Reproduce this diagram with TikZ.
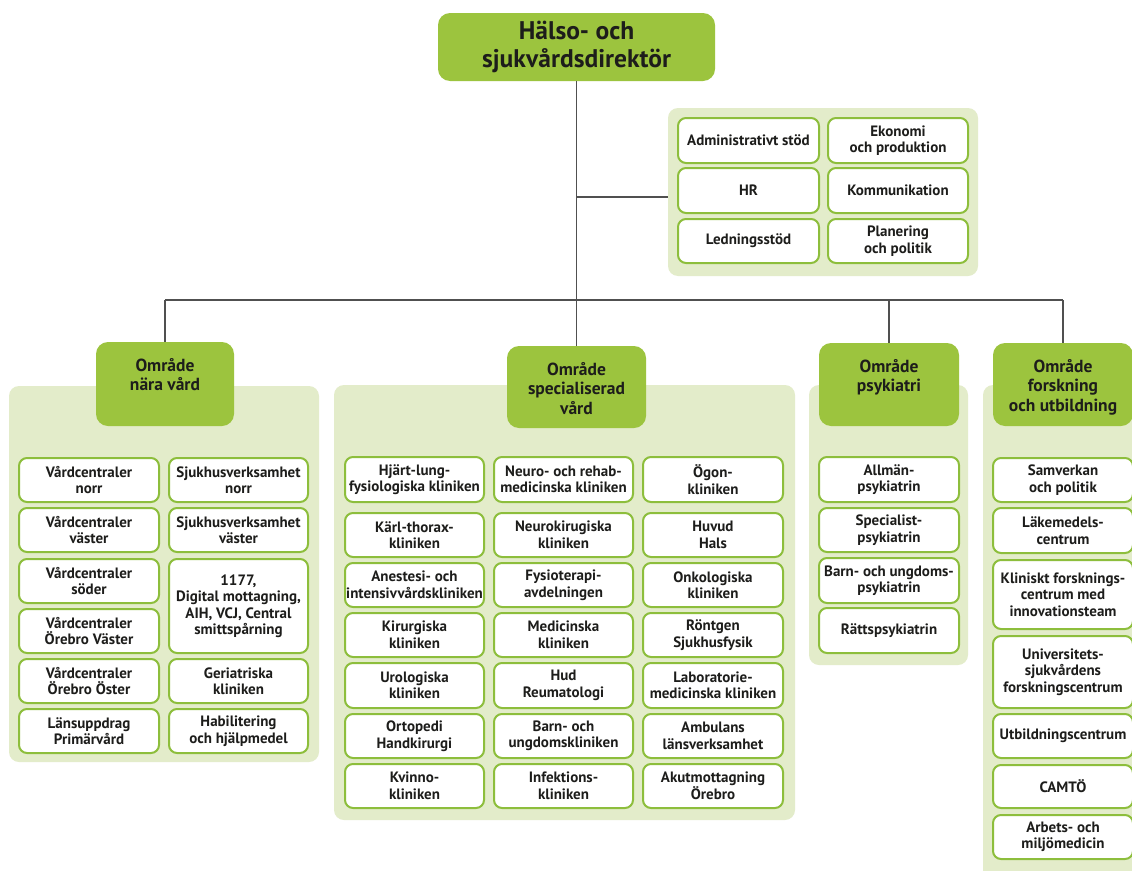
\documentclass[tikz,border=0pt]{standalone}
\usepackage{fontspec}
\setmainfont{PT Sans}
\definecolor{gdark}{HTML}{9CC43E}
\definecolor{gpanel}{HTML}{E3ECCA}
\definecolor{gborder}{HTML}{8DBE3C}
\definecolor{conncol}{HTML}{505050}
\definecolor{txt}{HTML}{1D1D1B}
\newcommand\mkbox[6]{\node[ibox, minimum width={#4-#2}, minimum height={#5-#3}] (#1) at ({(#2+#4)/2},{(#3+#5)/2}) {#6};}
\newcommand\mkpanel[5]{\node[panelbox, minimum width={#4-#2}, minimum height={#5-#3}] (#1) at ({(#2+#4)/2},{(#3+#5)/2}) {};}
\newcommand\mkhead[6]{\node[gbox, minimum width={#4-#2}, minimum height={#5-#3}] (#1) at ({(#2+#4)/2},{(#3+#5)/2}) {};
  \node[gtext, anchor=north] (#1t) at ([yshift=-16pt]#1.north) {#6};}
\begin{document}
\begin{tikzpicture}[x=1pt,y=-1pt,
  ibox/.style={draw=gborder, line width=2pt, fill=white, rounded corners=8pt, inner sep=0pt, align=center, text=txt, font=\bfseries\fontsize{15}{16.5}\selectfont},
  panelbox/.style={fill=gpanel, rounded corners=10pt, inner sep=0pt},
  gbox/.style={fill=gdark, rounded corners=12pt, inner sep=0pt},
  gtext/.style={inner sep=0pt, align=center, text=txt, font=\bfseries\fontsize{17.5}{19.5}\selectfont},
  conn/.style={draw=conncol, line width=1.4pt}]
\useasboundingbox[fill=white] (0,0) rectangle (1132,870);

% top
\node[gbox, minimum width=277, minimum height=68, align=center, text=txt, font=\bfseries\fontsize{25.5}{28}\selectfont] (top) at (576.5,47) {Hälso- och\\sjukvårdsdirektör};

% support panel
\mkpanel{stod}{668}{108}{978}{276}
\mkbox{as1}{678}{118}{819}{163}{Administrativt stöd}
\mkbox{as2}{828}{118}{968}{163}{Ekonomi\\och produktion}
\mkbox{as3}{678}{168}{819}{213}{HR}
\mkbox{as4}{828}{168}{968}{213}{Kommunikation}
\mkbox{as5}{678}{219}{819}{263}{Ledningsstöd}
\mkbox{as6}{828}{219}{968}{263}{Planering\\och politik}

% connectors
\coordinate (b1) at (165,300);
\coordinate (b2) at (576.5,300);
\coordinate (b3) at (889,300);
\coordinate (b4) at (1063,300);
\coordinate (sb) at (576.5,197);

% panels
\mkpanel{nvp}{9}{386}{319}{762}
\mkpanel{svp}{334}{385}{795}{820}
\mkpanel{psp}{809}{385}{968}{665}
\mkpanel{fup}{983}{385}{1150}{890}

% headings
\mkhead{nv}{96}{342}{234}{426}{Område\\nära vård}
\mkhead{sv}{507}{346}{646}{428}{Område\\specialiserad\\vård}
\mkhead{ps}{819}{343}{959}{426}{Område\\psykiatri}
\mkhead{fu}{993}{343}{1133}{426}{Område\\forskning\\och utbildning}

% nära vård
\mkbox{n1}{19}{458}{159}{502}{Vårdcentraler\\norr}
\mkbox{n2}{169}{458}{308}{502}{Sjukhusverksamhet\\norr}
\mkbox{n3}{19}{508}{159}{552}{Vårdcentraler\\väster}
\mkbox{n4}{169}{508}{308}{552}{Sjukhusverksamhet\\väster}
\mkbox{n5}{19}{559}{159}{603}{Vårdcentraler\\söder}
\mkbox{n6}{169}{559}{308}{653}{1177,\\Digital mottagning,\\AIH, VCJ, Central\\smittspårning}
\mkbox{n7}{19}{609}{159}{653}{Vårdcentraler\\Örebro Väster}
\mkbox{n8}{19}{659}{159}{703}{Vårdcentraler\\Örebro Öster}
\mkbox{n9}{169}{659}{308}{703}{Geriatriska\\kliniken}
\mkbox{n10}{19}{709}{159}{753}{Länsuppdrag\\Primärvård}
\mkbox{n11}{169}{709}{308}{753}{Habilitering\\och hjälpmedel}

% specialiserad vård
\mkbox{s11}{345}{457}{484}{502}{Hjärt-lung-\\fysiologiska kliniken}
\mkbox{s12}{494}{457}{633}{502}{Neuro- och rehab-\\medicinska kliniken}
\mkbox{s13}{643}{457}{783}{502}{Ögon-\\kliniken}
\mkbox{s21}{345}{513}{484}{557}{Kärl-thorax-\\kliniken}
\mkbox{s22}{494}{513}{633}{557}{Neurokirugiska\\kliniken}
\mkbox{s23}{643}{513}{783}{557}{Huvud\\Hals}
\mkbox{s31}{345}{563}{484}{607}{Anestesi- och\\intensivvårdskliniken}
\mkbox{s32}{494}{563}{633}{607}{Fysioterapi-\\avdelningen}
\mkbox{s33}{643}{563}{783}{607}{Onkologiska\\kliniken}
\mkbox{s41}{345}{613}{484}{657}{Kirurgiska\\kliniken}
\mkbox{s42}{494}{613}{633}{657}{Medicinska\\kliniken}
\mkbox{s43}{643}{613}{783}{657}{Röntgen\\Sjukhusfysik}
\mkbox{s51}{345}{663}{484}{708}{Urologiska\\kliniken}
\mkbox{s52}{494}{663}{633}{708}{Hud\\Reumatologi}
\mkbox{s53}{643}{663}{783}{708}{Laboratorie-\\medicinska kliniken}
\mkbox{s61}{345}{714}{484}{758}{Ortopedi\\Handkirurgi}
\mkbox{s62}{494}{714}{633}{758}{Barn- och\\ungdomskliniken}
\mkbox{s63}{643}{714}{783}{758}{Ambulans\\länsverksamhet}
\mkbox{s71}{345}{764}{484}{808}{Kvinno-\\kliniken}
\mkbox{s72}{494}{764}{633}{808}{Infektions-\\kliniken}
\mkbox{s73}{643}{764}{783}{808}{Akutmottagning\\Örebro}

% psykiatri
\mkbox{p1}{819}{457}{959}{502}{Allmän-\\psykiatrin}
\mkbox{p2}{819}{508}{959}{552}{Specialist-\\psykiatrin}
\mkbox{p3}{819}{558}{959}{603}{Barn- och ungdoms-\\psykiatrin}
\mkbox{p4}{819}{608}{959}{653}{Rättspsykiatrin}

% forskning och utbildning
\mkbox{f1}{993}{458}{1133}{502}{Samverkan\\och politik}
\mkbox{f2}{993}{508}{1133}{553}{Läkemedels-\\centrum}
\mkbox{f3}{993}{560}{1133}{629}{Kliniskt forsknings-\\centrum med\\innovationsteam}
\mkbox{f4}{993}{636}{1133}{708}{Universitets-\\sjukvårdens\\forskningscentrum}
\mkbox{f5}{993}{714}{1133}{758}{Utbildningscentrum}
\mkbox{f6}{993}{765}{1133}{808}{CAMTÖ}
\mkbox{f7}{993}{815}{1133}{859}{Arbets- och\\miljömedicin}

% connector lines
\draw[conn] (top.south) -- (b2);
\draw[conn] (sb) -- (sb -| stod.west);
\draw[conn] (b1) -- (b4);
\draw[conn] (b1) -- (nv.north);
\draw[conn] (b2) -- (sv.north);
\draw[conn] (b3) -- (ps.north);
\draw[conn] (b4) -- (fu.north);
\end{tikzpicture}
\end{document}
